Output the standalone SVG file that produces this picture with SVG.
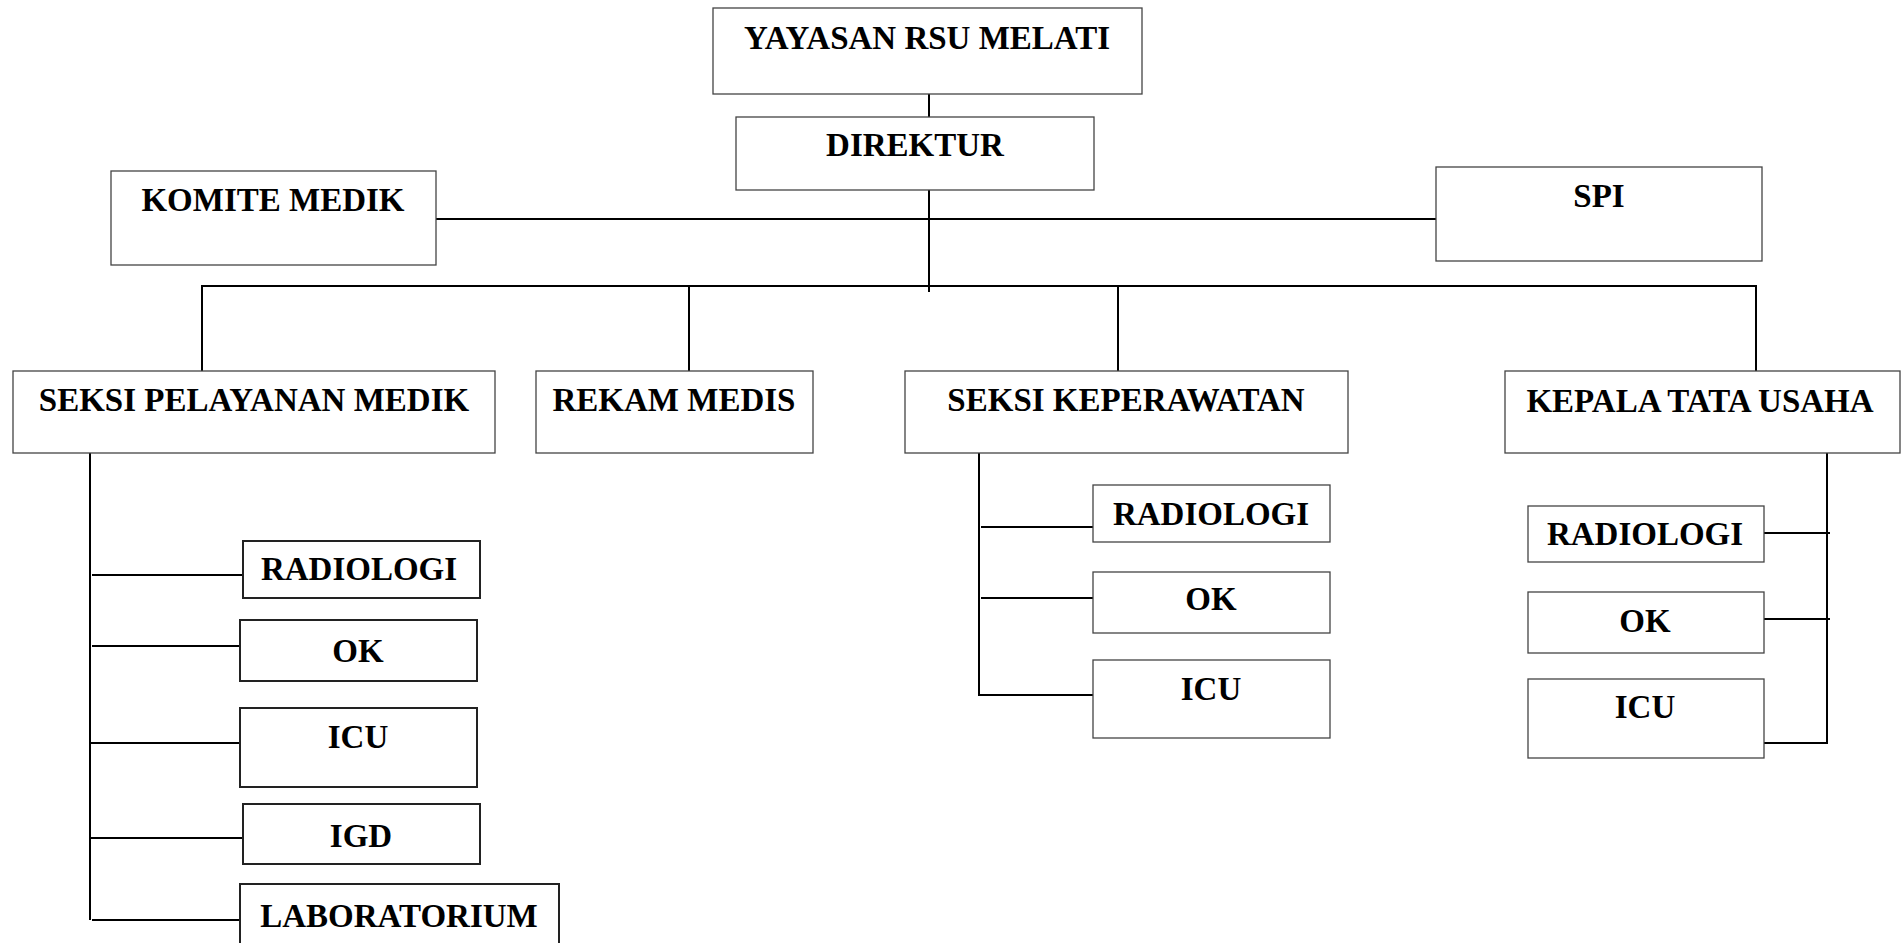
<svg xmlns="http://www.w3.org/2000/svg" width="1902" height="943" viewBox="0 0 1902 943">
<style>
.box{fill:#fff;stroke:#444;stroke-width:1.3}
.box2{fill:#fff;stroke:#222;stroke-width:2}
.t{font-family:"Liberation Serif","Times New Roman",serif;font-weight:bold;font-size:33px;fill:#000;text-anchor:middle}
.c{fill:none;stroke:#000;stroke-width:2}
</style>
<rect width="1902" height="943" fill="#fff"/>
<g id="connectors">
<line class="c" x1="929" y1="94" x2="929" y2="117"/>
<line class="c" x1="929" y1="190" x2="929" y2="292"/>
<line class="c" x1="436" y1="219" x2="1436" y2="219"/>
<polyline class="c" points="202,371 202,286 1756,286 1756,371"/>
<line class="c" x1="689" y1="286" x2="689" y2="371"/>
<line class="c" x1="1118" y1="286" x2="1118" y2="371"/>
<line class="c" x1="90" y1="453" x2="90" y2="920"/>
<line class="c" x1="92" y1="575" x2="243" y2="575"/>
<line class="c" x1="92" y1="646" x2="244" y2="646"/>
<line class="c" x1="90" y1="743" x2="240" y2="743"/>
<line class="c" x1="90" y1="838" x2="243" y2="838"/>
<line class="c" x1="92" y1="920" x2="243" y2="920"/>
<polyline class="c" points="979,453 979,695 1093,695"/>
<line class="c" x1="981" y1="527" x2="1093" y2="527"/>
<line class="c" x1="981" y1="598" x2="1093" y2="598"/>
<polyline class="c" points="1827,453 1827,743 1764,743"/>
<line class="c" x1="1764" y1="533" x2="1830" y2="533"/>
<line class="c" x1="1764" y1="619" x2="1830" y2="619"/>
</g>
<g id="yayasan"><rect class="box" x="713" y="8" width="429" height="86"/><text class="t" x="927" y="49">YAYASAN RSU MELATI</text></g>
<g id="direktur"><rect class="box" x="736" y="117" width="358" height="73"/><text class="t" x="915" y="156">DIREKTUR</text></g>
<g id="komite"><rect class="box" x="111" y="171" width="325" height="94"/><text class="t" x="273" y="211">KOMITE MEDIK</text></g>
<g id="spi"><rect class="box" x="1436" y="167" width="326" height="94"/><text class="t" x="1599" y="207">SPI</text></g>
<g id="seksi-pelayanan"><rect class="box" x="13" y="371" width="482" height="82"/><text class="t" x="254" y="411">SEKSI PELAYANAN MEDIK</text></g>
<g id="rekam-medis"><rect class="box" x="536" y="371" width="277" height="82"/><text class="t" x="674" y="411">REKAM MEDIS</text></g>
<g id="seksi-keperawatan"><rect class="box" x="905" y="371" width="443" height="82"/><text class="t" x="1126" y="411">SEKSI KEPERAWATAN</text></g>
<g id="kepala-tu"><rect class="box" x="1505" y="371" width="395" height="82"/><text class="t" x="1700" y="412">KEPALA TATA USAHA</text></g>
<g id="l-radiologi"><rect class="box2" x="243" y="541" width="237" height="57"/><text class="t" x="359" y="580">RADIOLOGI</text></g>
<g id="l-ok"><rect class="box2" x="240" y="620" width="237" height="61"/><text class="t" x="358" y="662">OK</text></g>
<g id="l-icu"><rect class="box2" x="240" y="708" width="237" height="79"/><text class="t" x="358" y="748">ICU</text></g>
<g id="l-igd"><rect class="box2" x="243" y="804" width="237" height="60"/><text class="t" x="361" y="847">IGD</text></g>
<g id="l-lab"><rect class="box2" x="240" y="884" width="319" height="70"/><text class="t" x="399" y="927">LABORATORIUM</text></g>
<g id="m-radiologi"><rect class="box" x="1093" y="485" width="237" height="57"/><text class="t" x="1211" y="525">RADIOLOGI</text></g>
<g id="m-ok"><rect class="box" x="1093" y="572" width="237" height="61"/><text class="t" x="1211" y="610">OK</text></g>
<g id="m-icu"><rect class="box" x="1093" y="660" width="237" height="78"/><text class="t" x="1211" y="700">ICU</text></g>
<g id="r-radiologi"><rect class="box" x="1528" y="506" width="236" height="56"/><text class="t" x="1645" y="545">RADIOLOGI</text></g>
<g id="r-ok"><rect class="box" x="1528" y="592" width="236" height="61"/><text class="t" x="1645" y="632">OK</text></g>
<g id="r-icu"><rect class="box" x="1528" y="679" width="236" height="79"/><text class="t" x="1645" y="718">ICU</text></g>
</svg>
